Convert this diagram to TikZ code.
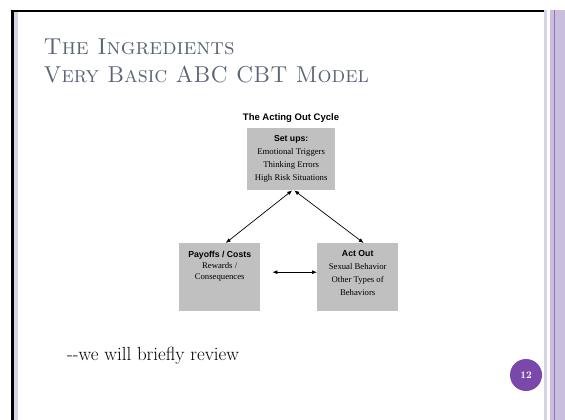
\documentclass[tikz,border=0pt]{standalone}
\usepackage{fontspec}
\newfontfamily\arialf{Liberation Sans}
\newfontfamily\timesf{Liberation Serif}
\usetikzlibrary{arrows.meta}
\definecolor{titlegray}{HTML}{5B6577}
\definecolor{boxgray}{HTML}{C0C0C0}
\definecolor{lavlight}{HTML}{D6D2E8}
\definecolor{lav}{HTML}{C9BEDC}
\definecolor{lavdark}{HTML}{9470C4}
\definecolor{pagepurple}{HTML}{7A48AA}
\tikzset{
  box/.style={fill=boxgray, draw=none, inner sep=0pt, anchor=north west},
  boxtext/.style={align=center, inner sep=0pt, anchor=north, font=\timesf\fontsize{8.7}{13}\selectfont},
  titletext/.style={anchor=base west, inner sep=0pt, text=titlegray, font=\fontsize{23}{23}\selectfont},
  arr/.style={{Latex[length=5pt,width=4pt]}-{Latex[length=5pt,width=4pt]}, line width=0.7pt},
}
\begin{document}
\begin{tikzpicture}[x=1pt,y=-1pt]
\useasboundingbox (0,0) rectangle (565,420);
% frame
\fill[white] (0,0) rectangle (565,420);
\fill[black] (11,10) rectangle (544,12.5);
\fill[black] (11,10) rectangle (14,420);
\fill[lavlight] (14,12.5) rectangle (18,420);
\fill[lavlight] (544,10) rectangle (546.5,420);
\fill[lav] (550,10) rectangle (565,420);
\fill[lavdark] (553.5,10) rectangle (555.3,420);
% title
\node[titletext] (t1) at (43.5,55) {\textsc{The Ingredients}};
\node[titletext] (t2) at (43.5,82) {\scalebox{0.955}[1]{\textsc{Very Basic ABC CBT Model}}};
% diagram
\node[anchor=base, inner sep=0pt, font=\arialf\bfseries\fontsize{9.5}{11}\selectfont] (cyc) at (291,120) {The Acting Out Cycle};
\node[box, minimum width=88pt, minimum height=62pt] (set) at (247,128) {};
\node[boxtext] (settxt) at ([yshift=-7.5pt]set.north) {{\arialf\bfseries Set ups:}\\Emotional Triggers\\Thinking Errors\\High Risk Situations};
\node[box, minimum width=81pt, minimum height=68pt] (pay) at (179,243) {};
\node[boxtext, font=\timesf\fontsize{8.7}{11}\selectfont] (paytxt) at ([yshift=-7.5pt]pay.north) {{\arialf\bfseries\fontsize{8.7}{14}\selectfont Payoffs / Costs}\\Rewards /\\Consequences};
\node[box, minimum width=81pt, minimum height=68pt] (act) at (317,243) {};
\node[boxtext] (acttxt) at ([yshift=-7.5pt]act.north) {{\arialf\bfseries Act Out}\\Sexual Behavior\\Other Types of\\Behaviors};
\draw[arr] ([xshift=1pt]set.south) -- ([xshift=6pt]pay.north);
\draw[arr] ([xshift=3pt]set.south) -- ([xshift=6pt]act.north);
\draw[arr] ([xshift=12pt,yshift=5pt]pay.east) -- ([yshift=5pt]act.west);
% text
\node[anchor=base west, inner sep=0pt, font=\fontsize{19}{22}\selectfont] (rev) at (67,360) {-{}-we will briefly review};
\node[circle, fill=pagepurple, minimum size=32pt, inner sep=0pt, text=white, font=\bfseries\fontsize{10}{11}\selectfont] (num) at (526,375) {12};
\end{tikzpicture}
\end{document}
